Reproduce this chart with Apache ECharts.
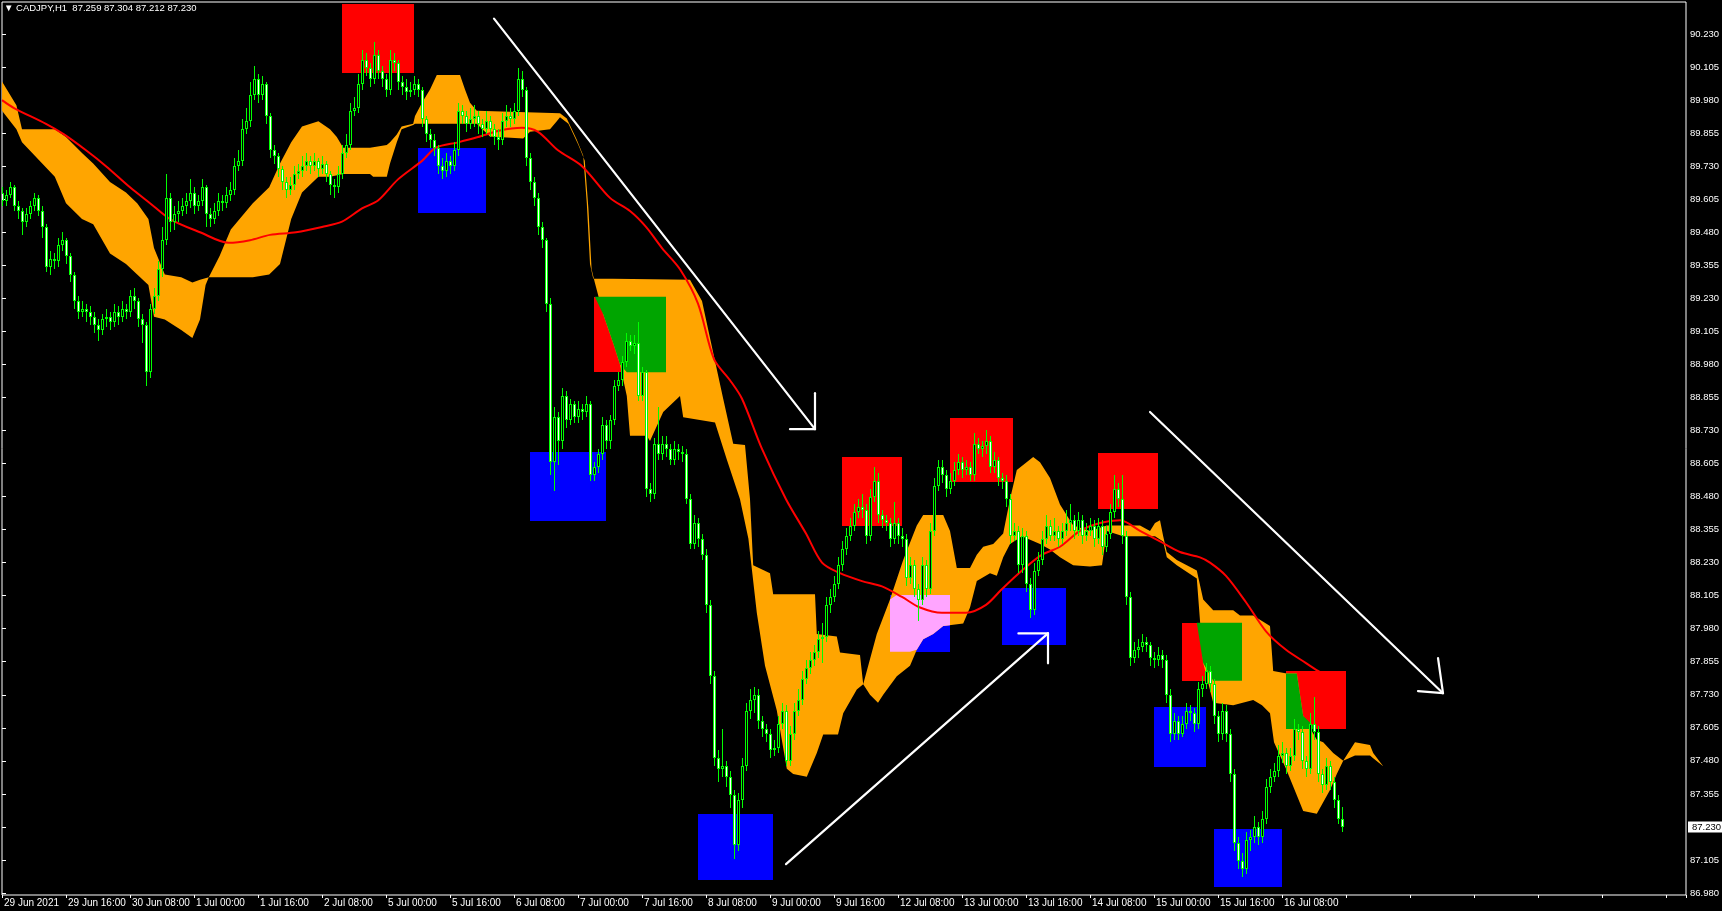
<!DOCTYPE html>
<html><head><meta charset="utf-8">
<script src="https://cdn.jsdelivr.net/npm/echarts@6/dist/echarts.min.js"></script>
<style>html,body{margin:0;padding:0;background:#000;}#c{width:1722px;height:911px;}</style>
</head><body><div id="c"></div>
<script>
// ---------------- data ----------------
const symbol = 'CADJPY,H1';
const xTickLabels = ['29 Jun 2021','29 Jun 16:00','30 Jun 08:00','1 Jul 00:00','1 Jul 16:00','2 Jul 08:00','5 Jul 00:00','5 Jul 16:00','6 Jul 08:00','7 Jul 00:00','7 Jul 16:00','8 Jul 08:00','9 Jul 00:00','9 Jul 16:00','12 Jul 08:00','13 Jul 00:00','13 Jul 16:00','14 Jul 08:00','15 Jul 00:00','15 Jul 16:00','16 Jul 08:00'];
const yTickLabels = ['86.980','87.105','87.230','87.355','87.480','87.605','87.730','87.855','87.980','88.105','88.230','88.355','88.480','88.605','88.730','88.855','88.980','89.105','89.230','89.355','89.480','89.605','89.730','89.855','89.980','90.105','90.230'];

const closes = [
89.60,89.62,89.65,89.58,89.56,89.52,89.55,89.58,89.61,89.56,
89.50,89.35,89.38,89.37,89.43,89.45,89.39,89.32,89.22,89.18,
89.19,89.18,89.16,89.13,89.11,89.15,89.16,89.14,89.18,89.16,
89.19,89.18,89.24,89.22,89.15,89.13,88.95,89.19,89.24,89.34,
89.45,89.61,89.52,89.55,89.56,89.58,89.60,89.63,89.58,89.60,
89.65,89.55,89.53,89.56,89.60,89.59,89.62,89.64,89.73,89.75,
89.87,89.90,90.00,90.06,90.00,90.04,89.92,89.79,89.77,89.72,
89.67,89.64,89.66,89.70,89.71,89.73,89.75,89.73,89.75,89.72,
89.74,89.70,89.66,89.65,89.70,89.78,89.81,89.94,89.95,90.04,
90.13,90.10,90.06,90.15,90.09,90.06,90.02,90.13,90.12,90.05,
90.03,90.01,90.02,90.04,90.02,89.91,89.85,89.83,89.80,89.73,
89.71,89.75,89.73,89.79,89.94,89.92,89.89,89.91,89.92,89.89,
89.87,89.90,89.87,89.84,89.83,89.90,89.92,89.91,89.94,90.06,
90.02,89.76,89.67,89.61,89.50,89.45,89.21,88.61,88.78,88.69,
88.86,88.77,88.83,88.78,88.81,88.80,88.83,88.56,88.59,88.64,
88.75,88.69,88.77,88.90,88.92,88.99,89.07,89.05,89.06,88.86,
88.95,88.51,88.49,88.68,88.64,88.68,88.66,88.62,88.66,88.65,
88.64,88.47,88.30,88.38,88.32,88.26,88.07,87.80,87.49,87.45,
87.46,87.42,87.35,87.16,87.33,87.46,87.67,87.71,87.73,87.63,
87.60,87.58,87.52,87.53,87.62,87.67,87.48,87.58,87.67,87.71,
87.79,87.83,87.86,87.89,87.94,87.95,88.07,88.10,88.15,88.22,
88.28,88.33,88.37,88.42,88.44,88.43,88.33,88.48,88.54,88.41,
88.39,88.38,88.32,88.38,88.33,88.32,88.17,88.22,88.13,88.09,
88.22,88.13,88.35,88.52,88.59,88.56,88.51,88.54,88.58,88.61,
88.58,88.59,88.56,88.68,88.66,88.67,88.69,88.59,88.62,88.55,
88.54,88.47,88.33,88.35,88.22,88.33,88.15,88.05,88.20,88.24,
88.32,88.37,88.33,88.35,88.32,88.35,88.38,88.39,88.35,88.39,
88.33,88.35,88.37,88.32,88.37,88.29,88.34,88.42,88.51,88.47,
88.33,88.10,87.87,87.90,87.91,87.93,87.92,87.87,87.86,87.88,
87.86,87.73,87.58,87.63,87.58,87.62,87.67,87.66,87.62,87.75,
87.77,87.82,87.77,87.65,87.58,87.67,87.58,87.43,87.17,87.10,
87.07,87.18,87.19,87.23,87.19,87.26,87.38,87.42,87.44,87.50,
87.51,87.46,87.50,87.60,87.59,87.48,87.45,87.62,87.59,87.43,
87.39,87.46,87.40,87.33,87.26,87.230];

const opens = [
89.63,89.60,89.62,89.65,89.58,89.56,89.52,89.55,89.58,89.61,
89.56,89.50,89.35,89.38,89.37,89.43,89.45,89.39,89.32,89.22,
89.18,89.19,89.18,89.16,89.13,89.11,89.15,89.16,89.14,89.18,
89.16,89.19,89.18,89.24,89.22,89.15,89.13,88.95,89.19,89.24,
89.34,89.45,89.61,89.52,89.55,89.56,89.58,89.60,89.63,89.58,
89.60,89.65,89.55,89.53,89.56,89.60,89.59,89.62,89.64,89.73,
89.75,89.87,89.90,90.00,90.06,90.00,90.04,89.92,89.79,89.77,
89.72,89.67,89.64,89.66,89.70,89.71,89.73,89.75,89.73,89.75,
89.72,89.74,89.70,89.66,89.65,89.70,89.78,89.81,89.94,89.95,
90.04,90.13,90.10,90.06,90.15,90.09,90.06,90.02,90.13,90.12,
90.05,90.03,90.01,90.02,90.04,90.02,89.91,89.85,89.83,89.80,
89.73,89.71,89.75,89.73,89.79,89.94,89.92,89.89,89.91,89.92,
89.89,89.87,89.90,89.87,89.84,89.83,89.90,89.92,89.91,89.94,
90.06,90.02,89.76,89.67,89.61,89.50,89.45,89.21,88.61,88.78,
88.69,88.86,88.77,88.83,88.78,88.81,88.80,88.83,88.56,88.59,
88.64,88.75,88.69,88.77,88.90,88.92,88.99,89.07,89.05,89.06,
88.86,88.95,88.51,88.49,88.68,88.64,88.68,88.66,88.62,88.66,
88.65,88.64,88.47,88.30,88.38,88.32,88.26,88.07,87.80,87.49,
87.45,87.46,87.42,87.35,87.16,87.33,87.46,87.67,87.71,87.73,
87.63,87.60,87.58,87.52,87.53,87.62,87.67,87.48,87.58,87.67,
87.71,87.79,87.83,87.86,87.89,87.94,87.95,88.07,88.10,88.15,
88.22,88.28,88.33,88.37,88.42,88.44,88.43,88.33,88.48,88.54,
88.41,88.39,88.38,88.32,88.38,88.33,88.32,88.17,88.22,88.13,
88.09,88.22,88.13,88.35,88.52,88.59,88.56,88.51,88.54,88.58,
88.61,88.58,88.59,88.56,88.68,88.66,88.67,88.69,88.59,88.62,
88.55,88.54,88.47,88.33,88.35,88.22,88.33,88.15,88.05,88.20,
88.24,88.32,88.37,88.33,88.35,88.32,88.35,88.38,88.39,88.35,
88.39,88.33,88.35,88.37,88.32,88.37,88.29,88.34,88.42,88.51,
88.47,88.33,88.10,87.87,87.90,87.91,87.93,87.92,87.87,87.86,
87.88,87.86,87.73,87.58,87.63,87.58,87.62,87.67,87.66,87.62,
87.75,87.77,87.82,87.77,87.65,87.58,87.67,87.58,87.43,87.17,
87.10,87.07,87.18,87.19,87.23,87.19,87.26,87.38,87.42,87.44,
87.50,87.51,87.46,87.50,87.60,87.59,87.48,87.45,87.62,87.59,
87.43,87.39,87.46,87.40,87.33,87.259];

const highs = [
89.65,89.64,89.67,89.66,89.60,89.57,89.57,89.60,89.63,89.62,
89.58,89.51,89.41,89.40,89.46,89.48,89.46,89.40,89.33,89.24,
89.22,89.21,89.20,89.18,89.15,89.17,89.19,89.18,89.21,89.20,
89.22,89.21,89.26,89.27,89.23,89.17,89.14,89.21,89.27,89.37,
89.50,89.70,89.63,89.58,89.60,89.61,89.63,89.68,89.65,89.62,
89.68,89.66,89.57,89.59,89.63,89.62,89.65,89.67,89.76,89.79,
89.91,89.95,90.05,90.11,90.08,90.07,90.05,89.93,89.81,89.78,
89.73,89.69,89.69,89.73,89.74,89.77,89.78,89.77,89.78,89.76,
89.77,89.75,89.71,89.68,89.73,89.81,89.85,89.97,89.99,90.08,
90.17,90.16,90.12,90.20,90.17,90.11,90.08,90.17,90.16,90.13,
90.07,90.06,90.05,90.07,90.06,90.03,89.92,89.87,89.85,89.81,
89.76,89.78,89.77,89.82,89.97,89.96,89.94,89.95,89.96,89.94,
89.91,89.94,89.92,89.89,89.87,89.93,89.96,89.95,89.97,90.10,
90.09,90.03,89.78,89.69,89.63,89.52,89.46,89.23,88.82,88.80,
88.89,88.88,88.85,88.84,88.84,88.83,88.86,88.84,88.61,88.66,
88.78,88.77,88.79,88.92,88.95,89.01,89.10,89.09,89.09,89.14,
88.97,88.96,88.53,88.70,88.82,88.71,88.71,88.68,88.69,88.68,
88.67,88.66,88.49,88.41,88.40,88.34,88.28,88.09,87.82,87.52,
87.60,87.48,87.44,87.37,87.36,87.49,87.70,87.75,87.76,87.75,
87.65,87.62,87.60,87.56,87.65,87.70,87.69,87.61,87.70,87.75,
87.82,87.86,87.89,87.92,87.97,88.00,88.10,88.13,88.18,88.25,
88.31,88.36,88.40,88.45,88.47,88.49,88.45,88.51,88.59,88.57,
88.43,88.41,88.40,88.46,88.40,88.36,88.34,88.25,88.24,88.15,
88.25,88.24,88.38,88.55,88.62,88.62,88.58,88.57,88.61,88.64,
88.63,88.62,88.61,88.72,88.70,88.69,88.73,88.71,88.65,88.63,
88.57,88.56,88.49,88.38,88.37,88.36,88.35,88.17,88.23,88.27,
88.35,88.41,88.39,88.40,88.37,88.38,88.43,88.45,88.41,88.42,
88.41,88.38,88.40,88.39,88.40,88.39,88.37,88.45,88.56,88.53,
88.56,88.35,88.12,87.93,87.94,87.96,87.95,87.93,87.89,87.91,
87.90,87.88,87.75,87.66,87.65,87.65,87.70,87.69,87.68,87.78,
87.80,87.85,87.84,87.79,87.67,87.70,87.69,87.60,87.45,87.19,
87.13,87.21,87.22,87.27,87.25,87.29,87.41,87.45,87.47,87.54,
87.55,87.53,87.53,87.64,87.62,87.61,87.50,87.66,87.72,87.61,
87.45,87.49,87.48,87.42,87.35,87.304];

const lows = [
89.58,89.58,89.61,89.56,89.53,89.47,89.50,89.53,89.56,89.54,
89.46,89.33,89.32,89.34,89.35,89.41,89.36,89.29,89.19,89.15,
89.16,89.14,89.13,89.10,89.07,89.09,89.12,89.11,89.12,89.13,
89.14,89.15,89.16,89.19,89.12,89.06,88.90,88.93,89.17,89.22,
89.31,89.43,89.48,89.49,89.52,89.54,89.55,89.57,89.55,89.56,
89.58,89.50,89.50,89.51,89.54,89.56,89.57,89.60,89.62,89.71,
89.73,89.85,89.88,89.98,89.97,89.98,89.89,89.76,89.74,89.69,
89.64,89.61,89.62,89.64,89.68,89.69,89.71,89.70,89.71,89.69,
89.70,89.67,89.62,89.61,89.63,89.68,89.76,89.79,89.92,89.93,
90.02,90.07,90.03,90.04,90.06,90.03,89.99,90.00,90.09,90.02,
90.00,89.98,89.99,90.00,89.99,89.88,89.82,89.80,89.77,89.70,
89.68,89.69,89.70,89.71,89.77,89.89,89.86,89.87,89.88,89.85,
89.84,89.85,89.84,89.81,89.79,89.81,89.88,89.88,89.89,89.92,
89.99,89.73,89.64,89.58,89.47,89.42,89.18,88.56,88.50,88.60,
88.66,88.74,88.75,88.76,88.76,88.77,88.78,88.54,88.54,88.57,
88.62,88.66,88.66,88.75,88.88,88.90,88.97,89.03,89.02,88.84,
88.84,88.48,88.46,88.47,88.62,88.62,88.63,88.60,88.60,88.62,
88.61,88.45,88.28,88.28,88.29,88.24,88.04,87.77,87.46,87.40,
87.42,87.38,87.30,87.11,87.14,87.30,87.44,87.64,87.66,87.60,
87.57,87.55,87.49,87.50,87.51,87.60,87.46,87.46,87.56,87.65,
87.69,87.77,87.81,87.84,87.87,87.85,87.93,88.04,88.08,88.13,
88.20,88.26,88.31,88.35,88.40,88.40,88.30,88.31,88.46,88.38,
88.36,88.35,88.29,88.30,88.30,88.29,88.14,88.15,88.10,88.01,
88.07,88.10,88.11,88.33,88.50,88.53,88.48,88.49,88.52,88.56,
88.55,88.56,88.54,88.54,88.64,88.63,88.64,88.57,88.57,88.52,
88.51,88.44,88.30,88.31,88.19,88.19,88.12,88.02,88.03,88.18,
88.22,88.30,88.31,88.31,88.29,88.30,88.33,88.35,88.32,88.33,
88.30,88.31,88.33,88.29,88.30,88.26,88.27,88.32,88.40,88.44,
88.30,88.07,87.84,87.85,87.87,87.89,87.89,87.84,87.83,87.84,
87.83,87.70,87.55,87.56,87.56,87.57,87.60,87.63,87.59,87.60,
87.72,87.75,87.74,87.62,87.55,87.56,87.55,87.40,87.14,87.07,
87.04,87.05,87.14,87.17,87.16,87.17,87.24,87.36,87.40,87.42,
87.47,87.43,87.44,87.48,87.56,87.45,87.42,87.43,87.56,87.40,
87.36,87.37,87.37,87.30,87.24,87.212];

// moving average (bar index, price)
const maLine = [[0,89.98],[3,89.95],[11,89.89],[15.5,89.85],[21,89.79],[26,89.73],[32,89.65],[37,89.59],[42,89.53],[49.5,89.48],[56.7,89.44],[62,89.45],[67,89.47],[73.5,89.48],[80,89.50],[85,89.52],[90,89.57],[94,89.60],[99,89.68],[105,89.75],[108.5,89.80],[114,89.82],[119,89.84],[124.5,89.865],[130,89.875],[134,89.86],[139,89.79],[145,89.73],[152,89.61],[157,89.56],[161,89.50],[165,89.42],[169.5,89.34],[174,89.21],[178,89.00],[182,88.92],[185,88.85],[190,88.66],[196,88.47],[201,88.34],[205,88.23],[209.5,88.19],[215,88.16],[220,88.14],[225,88.10],[229.5,88.06],[235,88.04],[241,88.04],[246,88.07],[250,88.13],[255,88.20],[260,88.26],[264.5,88.29],[269.5,88.35],[274.5,88.38],[279.5,88.39],[284.5,88.35],[289.5,88.31],[294.5,88.27],[299.5,88.25],[302,88.23],[306,88.18],[311,88.08],[316,87.97],[321,87.90],[326,87.85],[329,87.82],[335,87.77]];

// cloud edges (bar index, price)
const cloudUpper = [[0,90.05],[3.6,89.96],[5,89.87],[13.2,89.87],[16,89.84],[20,89.78],[22.8,89.74],[27,89.67],[31,89.63],[33.8,89.59],[36.6,89.53],[38,89.42],[40.7,89.32],[44.8,89.31],[47.6,89.29],[49.5,89.30],[51.7,89.31],[54.4,89.39],[57.2,89.49],[62.7,89.59],[66.8,89.65],[69.5,89.74],[72.3,89.82],[75,89.88],[79.1,89.90],[82,89.87],[83.7,89.84],[85.3,89.80],[92,89.80],[96.2,89.81],[97,89.82],[98.7,89.85],[99.9,89.88],[102.8,89.89],[103.25,89.92],[105,89.97],[107,90.02],[108.7,90.075],[114.5,90.075],[115.75,90.02],[117,89.97],[118.7,89.94],[139.5,89.93],[141.2,89.91],[143.7,89.83],[145.3,89.77],[146.2,89.59],[147,89.36],[147.8,89.305],[172,89.30],[175,89.22],[177,89.08],[180.3,88.85],[182.8,88.68],[185.75,88.675],[187,88.47],[187.8,88.22],[192,88.19],[192.8,88.11],[203.25,88.11],[203.7,87.96],[208.7,87.95],[209.5,87.89],[214.5,87.88],[215.3,87.77],[218.7,87.96],[222,88.09],[225.3,88.24],[228.7,88.37],[230.3,88.41],[235.3,88.41],[237,88.35],[238.7,88.21],[242,88.21],[243.7,88.26],[245.3,88.29],[247.8,88.30],[250.3,88.34],[252,88.47],[253.7,88.58],[257.8,88.63],[259.5,88.61],[262,88.55],[264.5,88.45],[267.8,88.37],[272,88.35],[276.2,88.37],[280.3,88.37],[284.5,88.37],[287,88.35],[288.25,88.38],[289.5,88.39],[290.3,88.33],[291.2,88.27],[293.7,88.24],[298.7,88.20],[300.3,88.09],[302.8,88.05],[307.8,88.05],[309.5,88.03],[312.8,88.03],[317,87.99],[317.8,87.82],[321.2,87.81],[323.7,87.81],[325.3,87.65],[328.7,87.56],[330.3,87.55],[332.8,87.51],[335.3,87.48],[338.25,87.55],[342,87.54],[342.8,87.51],[345.3,87.46]];
const cloudLower = [[0,89.94],[3.6,89.87],[5,89.82],[13.2,89.69],[16,89.59],[20,89.53],[22.8,89.51],[27,89.40],[31,89.36],[33.8,89.32],[36.6,89.28],[38,89.16],[40.7,89.15],[44.8,89.11],[47.6,89.08],[49.5,89.15],[50.9,89.28],[51.7,89.31],[54.4,89.31],[57.2,89.31],[62.7,89.31],[66.8,89.32],[69.5,89.36],[72.3,89.53],[75,89.63],[79.1,89.69],[82,89.69],[85.3,89.70],[92,89.70],[92.8,89.69],[96.2,89.69],[97,89.74],[98.7,89.82],[99.9,89.87],[102.8,89.886],[103.25,89.89],[107,89.89],[118.7,89.89],[120.3,89.867],[122,89.842],[130.3,89.835],[132,89.86],[137,89.87],[138.7,89.90],[139.5,89.915],[141.6,89.89],[144.1,89.81],[145.7,89.75],[146.6,89.57],[147.4,89.34],[148.2,89.29],[150.3,89.17],[152.8,89.06],[154.5,88.98],[156.2,88.86],[157,88.71],[161.2,88.71],[162,88.69],[165.3,88.80],[169.5,88.86],[170.3,88.78],[178.25,88.76],[181.2,88.62],[184.5,88.47],[186.6,88.32],[188.7,88.04],[190.75,87.84],[193.7,87.67],[196.2,87.45],[197.8,87.43],[201.2,87.42],[203.7,87.51],[205.3,87.58],[209,87.58],[210.3,87.66],[213.7,87.75],[215.3,87.77],[217,87.73],[219,87.70],[220.3,87.73],[223.7,87.80],[227,87.84],[228.7,87.90],[230.3,87.94],[232.8,87.96],[235.3,87.99],[240.3,88.00],[242,88.06],[243.7,88.16],[247,88.19],[248.7,88.18],[250.3,88.25],[252,88.30],[255,88.33],[259.5,88.30],[262,88.28],[264.5,88.25],[267.8,88.22],[272,88.215],[275,88.22],[276.2,88.35],[280.3,88.33],[284.5,88.33],[288.25,88.33],[290.3,88.31],[291.2,88.25],[293.7,88.22],[298.7,88.17],[300.3,87.85],[302.8,87.70],[307.8,87.69],[312.8,87.71],[315,87.69],[317,87.66],[318,87.55],[321,87.45],[323.7,87.35],[325.3,87.29],[328.7,87.28],[332,87.37],[333.7,87.43],[335.3,87.48],[338.25,87.50],[342,87.50],[342.8,87.49],[345.3,87.46]];

// rectangles [startBar, endBar, topPrice, bottomPrice]
const redBoxes = [[85,103,90.345,90.083],[148,166,89.236,88.950],[210.1,224.9,88.631,88.368],[237,252.8,88.776,88.536],[274.1,288.9,88.646,88.431],[295.1,309.9,88.002,87.783],[321,335.9,87.821,87.600]];
const blueBoxes = [[104,121,89.799,89.553],[132,151,88.647,88.389],[174.1,192.8,87.277,87.029],[222,237,88.107,87.893],[249.9,265.9,88.133,87.918],[288,300.9,87.685,87.458],[303,319.9,87.224,87.001]];

// hand drawn arrows [bar1, price1, bar2, price2]
const arrowSegments = [
  [123,90.288,203.25,88.735],[203.25,88.735,203.25,88.871],[203.25,88.735,197,88.735],
  [196,87.089,261.5,87.962],[261.5,87.962,254.1,87.962],[261.5,87.962,261.5,87.849],
  [287,88.80,360.25,87.736],[360.25,87.736,359,87.869],[360.25,87.736,354,87.744]
];

// ---------------- chart ----------------
const n = closes.length;
const candleRows = closes.map((c, i) => [i, opens[i], c, lows[i], highs[i]]);
const FONT = 'Liberation Sans, Arial, sans-serif';
const CLOUD = '#ffa500';
// colours MT4 shows where a filled rectangle and the cloud overlap (xor of the two colours)
const RED = '#ff0000', BLUE = '#0000ff', RED_X_CLOUD = '#00a500', BLUE_X_CLOUD = '#ffa5ff';

const chart = echarts.init(document.getElementById('c'), null, {renderer: 'canvas', width: 1722, height: 911});

function edgeAt(arr, b) {
  if (b <= arr[0][0]) return arr[0][1];
  for (let k = 1; k < arr.length; k++) {
    if (b <= arr[k][0]) {
      const b0 = arr[k - 1][0], p0 = arr[k - 1][1], b1 = arr[k][0], p1 = arr[k][1];
      return b1 === b0 ? p1 : p0 + (p1 - p0) * (b - b0) / (b1 - b0);
    }
  }
  return arr[arr.length - 1][1];
}

function boxRender(color) {
  return function (params, api) {
    const p1 = api.coord([api.value(0), api.value(2)]);
    const p2 = api.coord([api.value(1), api.value(3)]);
    return {type: 'rect', shape: {x: Math.round(p1[0]), y: Math.round(p1[1]), width: Math.round(p2[0]) - Math.round(p1[0]), height: Math.round(p2[1]) - Math.round(p1[1])}, style: {fill: color}};
  };
}

function overlapRender(color) {
  return function (params, api) {
    const b1 = api.value(0), b2 = api.value(1), top = api.value(2), bot = api.value(3);
    const cStart = cloudUpper[0][0], cEnd = cloudUpper[cloudUpper.length - 1][0];
    const s = Math.max(b1, cStart), e = Math.min(b2, cEnd);
    if (e <= s) return null;
    const xs = [s, e];
    cloudUpper.concat(cloudLower).forEach(p => { if (p[0] > s && p[0] < e) xs.push(p[0]); });
    xs.sort((a, b) => a - b);
    const up = [], lo = [];
    const xL = Math.round(api.coord([b1, top])[0]), xR = Math.round(api.coord([b2, top])[0]);
    xs.forEach(b => {
      const u0 = edgeAt(cloudUpper, b), l0 = edgeAt(cloudLower, b);
      const u = Math.min(Math.max(Math.max(u0, l0), bot), top);
      const l = Math.min(Math.max(Math.min(u0, l0), bot), top);
      const pu = api.coord([b, u]), pl = api.coord([b, l]);
      let x = pu[0];
      if (b === b1) x = xL; if (b === b2) x = xR;
      up.push([x, pu[1]]); lo.push([x, pl[1]]);
    });
    return {type: 'polygon', shape: {points: up.concat(lo.reverse())}, style: {fill: color}};
  };
}

const option = {
  backgroundColor: '#000000',
  animation: false,
  title: {
    text: '\u25BC ' + symbol + '  ' + [opens[n-1], highs[n-1], lows[n-1], closes[n-1]].map(v => v.toFixed(3)).join(' '),
    left: 4, top: 3, padding: 0,
    textStyle: {color: '#ffffff', fontSize: 9.5, fontWeight: 'normal', fontFamily: FONT}
  },
  grid: [
    {left: 2, right: 36, top: 2, bottom: 16, show: true, borderColor: '#ffffff', borderWidth: 1, backgroundColor: 'transparent'},
    {left: 2, right: 36, top: 34, bottom: 18, show: false}
  ],
  xAxis: [
    {type: 'value', gridIndex: 0, min: 0, max: 421, interval: 16,
     axisLine: {show: false}, splitLine: {show: false},
     axisTick: {show: true, length: 3, lineStyle: {color: '#ffffff'}},
     axisLabel: {show: true, color: '#ffffff', fontSize: 10, fontFamily: FONT, align: 'left', margin: 3, padding: [0,0,0,2],
       formatter: v => (Number.isInteger(v / 16) && xTickLabels[v / 16]) ? xTickLabels[v / 16] : ''}},
    {type: 'value', gridIndex: 1, min: 0, max: 1, show: false}
  ],
  yAxis: [
    {type: 'value', gridIndex: 0, min: 86.9724, max: 90.3511, show: false, splitLine: {show: false}},
    {type: 'value', gridIndex: 1, position: 'right', min: 87.000, max: 90.250, interval: 0.125,
     axisLine: {show: false}, splitLine: {show: false},
     axisTick: {show: true, length: 4, lineStyle: {color: '#ffffff'}},
     axisLabel: {show: true, color: '#ffffff', fontSize: 9.5, fontFamily: FONT, margin: 6,
       formatter: v => yTickLabels[Math.round((v - 87.0) / 0.125)] || ''}}
  ],
  series: [
    {type: 'custom', name: 'redBoxes', xAxisIndex: 0, yAxisIndex: 0, z: 1, silent: true, clip: true,
     data: redBoxes, encode: {x: [0, 1], y: [2, 3]}, renderItem: boxRender(RED)},
    {type: 'custom', name: 'blueBoxes', xAxisIndex: 0, yAxisIndex: 0, z: 1, silent: true, clip: true,
     data: blueBoxes, encode: {x: [0, 1], y: [2, 3]}, renderItem: boxRender(BLUE)},
    {type: 'custom', name: 'cloud', xAxisIndex: 0, yAxisIndex: 0, z: 2, silent: true, clip: true,
     data: cloudUpper, encode: {x: 0, y: 1},
     renderItem: function (params, api) {
       if (params.dataIndex !== 0) return null;
       const pts = cloudUpper.map(p => api.coord(p));
       for (let k = cloudLower.length - 1; k >= 0; k--) pts.push(api.coord(cloudLower[k]));
       return {type: 'polygon', shape: {points: pts}, style: {fill: CLOUD}};
     }},
    {type: 'custom', name: 'redOverlap', xAxisIndex: 0, yAxisIndex: 0, z: 2.5, silent: true, clip: true,
     data: redBoxes, encode: {x: [0, 1], y: [2, 3]}, renderItem: overlapRender(RED_X_CLOUD)},
    {type: 'custom', name: 'blueOverlap', xAxisIndex: 0, yAxisIndex: 0, z: 2.5, silent: true, clip: true,
     data: blueBoxes, encode: {x: [0, 1], y: [2, 3]}, renderItem: overlapRender(BLUE_X_CLOUD)},
    {type: 'line', name: 'MA', xAxisIndex: 0, yAxisIndex: 0, z: 3, silent: true, clip: true,
     data: maLine, smooth: 0.3, showSymbol: false, symbol: 'none',
     lineStyle: {color: '#ff0000', width: 2}},
    {type: 'custom', name: 'candles', xAxisIndex: 0, yAxisIndex: 0, z: 4, silent: true, clip: true,
     data: candleRows, encode: {x: 0, y: [1, 2, 3, 4]},
     renderItem: function (params, api) {
       const i = api.value(0), o = api.value(1), c = api.value(2), l = api.value(3), h = api.value(4);
       const pO = api.coord([i, o]), pC = api.coord([i, c]), pL = api.coord([i, l]), pH = api.coord([i, h]);
       const x = Math.round(pO[0]);
       const top = Math.round(Math.min(pO[1], pC[1])), bot = Math.round(Math.max(pO[1], pC[1]));
       const yh = Math.round(pH[1]), yl = Math.round(pL[1]);
       const children = [
         {type: 'rect', shape: {x: x, y: yh, width: 1, height: Math.max(1, yl - yh)}, style: {fill: '#00ff00'}},
         {type: 'rect', shape: {x: x - 1, y: top, width: 3, height: Math.max(1, bot - top)}, style: {fill: '#00ff00'}}
       ];
       if (bot - top > 2) children.push({type: 'rect', shape: {x: x, y: top + 1, width: 1, height: bot - top - 2}, style: {fill: c < o ? '#ffffff' : '#000000'}});
       return {type: 'group', children: children};
     }},
    {type: 'custom', name: 'arrows', xAxisIndex: 0, yAxisIndex: 0, z: 5, silent: true, clip: true,
     data: arrowSegments, encode: {x: [0, 2], y: [1, 3]},
     renderItem: function (params, api) {
       const a = api.coord([api.value(0), api.value(1)]), b = api.coord([api.value(2), api.value(3)]);
       return {type: 'line', shape: {x1: a[0], y1: a[1], x2: b[0], y2: b[1]}, style: {stroke: '#ffffff', lineWidth: 2.2, lineCap: 'round'}};
     }},
    {type: 'custom', name: 'lastPrice', xAxisIndex: 0, yAxisIndex: 0, z: 10, silent: true, clip: false,
     data: [[n - 1, closes[n - 1]]], encode: {x: 0, y: 1},
     renderItem: function (params, api) {
       const p = api.coord([api.value(0), api.value(1)]);
       const cs = params.coordSys;
       return {type: 'text', style: {text: api.value(1).toFixed(3), x: cs.x + cs.width + 2, y: Math.round(p[1]),
         verticalAlign: 'middle', align: 'left', fill: '#000000', backgroundColor: '#ffffff', padding: [1, 4, 0, 4],
         font: '9.5px ' + FONT}};
     }}
  ]
};
chart.setOption(option);
</script>
</body></html>
